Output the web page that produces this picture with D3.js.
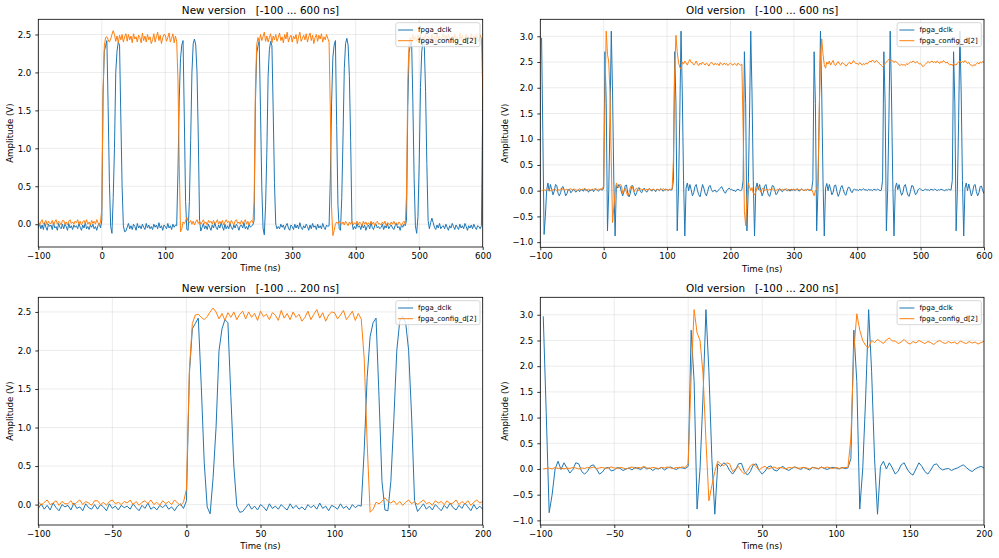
<!DOCTYPE html>
<html>
<head>
<meta charset="utf-8">
<script src="https://cdn.jsdelivr.net/npm/d3@7"></script>
<style>
  body { margin: 0; background: #fff; }
  svg { display: block; }
  text { font-family: "DejaVu Sans", sans-serif; }
</style>
</head>
<body>
<svg id="chart" width="999" height="558"></svg>
<script>
// scope samples, one every 2 ns starting at -100 ns, values in centivolts
const sampleStart = -100;
const sampleStep = 2;
const seriesNames = ["fpga_dclk", "fpga_config_d[2]"];

const newDclk = [
  -5,1,-6,-1,-7,2,-4,-8,0,-3,
  -1,-7,2,-5,-3,-8,1,-4,-6,0,
  -6,0,-3,-8,1,-5,-2,-7,-1,-4,
  -2,-6,1,-4,-8,-1,-5,2,-6,-3,
  -7,-1,-4,0,-6,-3,-8,-2,1,-5,
  5,170,228,235,242,155,55,-3,-12,35,
  100,200,228,240,236,140,50,-2,-10,-9,
  -4,1,-6,-2,-7,0,-3,-8,1,-5,
  -2,-6,0,-4,-7,1,-5,-1,-6,-3,
  -7,0,-4,-1,-6,2,-5,-2,-8,-1,
  -3,-6,1,-5,-2,-7,0,-4,-1,-2,
  70,165,218,236,242,140,30,-7,-8,30,
  110,200,238,244,236,200,115,5,-9,-4,
  1,-6,-2,-7,0,-4,-8,-1,-5,2,
  -4,-7,-1,-5,2,-3,-8,0,-6,-2,
  -6,1,-4,-7,-1,-5,0,-3,-8,-2,
  -1,-5,2,-6,-3,-7,0,-4,-2,-1,
  5,160,225,235,241,150,50,-5,-14,25,
  95,195,230,241,235,150,55,0,-6,-3,
  -6,0,-4,-1,-7,-2,1,-5,-8,-1,
  -3,-7,0,-5,-1,-6,2,-4,-7,-2,
  -5,0,-3,-8,-1,-6,1,-4,-2,-7,
  0,-5,-2,-6,1,-4,-7,-1,-3,-2,
  60,160,220,236,242,130,25,-6,-8,35,
  115,205,238,245,236,195,110,4,-7,-3,
  -6,1,-4,-2,-7,0,-5,-1,-8,-3,
  -1,-6,2,-4,-7,-2,0,-5,-3,-6,
  -4,0,-7,-2,-5,1,-6,-3,-1,-5,
  -7,-2,1,-5,-3,-8,-1,-4,0,-2,
  5,155,226,236,242,160,60,-2,-12,10,
  80,180,228,241,236,175,80,5,-6,2,
  8,2,-4,-7,-1,-5,1,-6,-3,-2,
  -6,0,-4,-8,-2,-5,1,-3,-7,-1,
  -4,-7,0,-5,-2,-6,1,-3,-8,-2,
  -5,-1,-6,0,-4,-7,-2,-3,-6,-2,
  160,228
];

const newConfig = [
  4,-1,3,6,0,2,5,-1,4,1,
  1,5,-1,3,6,0,4,2,-1,5,
  5,0,3,-1,4,6,1,3,0,4,
  2,6,0,4,-1,3,5,1,6,0,
  3,-1,5,1,4,0,6,2,-1,3,
  20,175,235,246,247,243,240,244,250,255,
  250,241,248,239,249,243,250,240,247,251,
  241,250,243,248,239,251,244,247,240,249,
  246,239,252,242,248,240,250,243,247,238,
  243,251,240,247,253,242,249,238,246,250,
  249,241,246,252,240,245,251,239,248,241,
  190,80,-10,-6,3,1,4,9,4,2,
  5,0,4,-1,3,6,1,4,0,3,
  6,1,3,-1,5,2,4,0,5,1,
  2,6,0,4,1,5,-1,3,6,2,
  4,0,5,2,-1,4,6,1,3,0,
  5,1,3,6,0,4,-1,3,5,2,
  30,180,236,246,240,250,242,247,253,241,
  248,240,246,251,239,248,243,250,241,246,
  252,242,247,239,250,244,253,240,246,249,
  240,248,244,250,238,247,253,241,245,249,
  243,251,240,247,252,242,249,238,246,250,
  241,249,244,251,240,247,243,250,245,240,
  150,20,-15,-8,0,3,1,4,2,0,
  3,-1,4,1,-2,3,0,4,-1,2,
  0,4,-1,3,1,-2,4,0,3,-1,
  2,-1,4,0,3,-2,2,4,0,1,
  -1,3,0,4,-2,2,1,-1,3,0,
  4,0,2,-1,3,1,-2,2,4,0,
  40,190,238,246,240,250,243,247,241,249,
  244,251,240,247,243,250,239,248,245,241,
  250,243,247,239,252,244,248,240,246,251,
  242,249,241,250,245,239,248,243,251,244,
  247,240,252,243,249,241,246,250,239,247,
  244,251,242,248,240,250,245,241,249,245,
  180,40
];

const oldDclk = [
  null,297,110,-85,-50,0,15,-1,12,2,
  -8,-1,12,10,-5,-10,-4,6,8,0,
  -10,-6,2,3,-4,-2,3,1,-3,0,
  2,-2,3,1,-1,4,0,2,-3,1,
  0,3,-2,2,4,1,-1,3,2,1,
  5,270,170,-78,0,140,310,190,20,-88,
  10,5,12,8,-3,-10,-2,10,11,-5,
  -12,-5,8,10,-3,-10,-4,4,6,-2,
  -4,2,5,0,-3,1,4,2,-1,3,
  1,-2,3,2,0,4,1,-1,2,3,
  2,0,3,1,2,20,270,170,-78,0,
  140,310,190,20,-88,5,15,0,12,2,
  -10,-4,8,12,0,-8,-12,0,12,5,
  -5,-10,-2,8,10,2,-2,0,1,-3,
  0,2,5,8,3,-2,-5,0,3,5,
  2,3,0,1,-2,2,3,1,0,2,
  20,270,170,-78,0,140,310,190,20,-88,
  5,15,2,12,0,-10,-3,9,12,0,
  -9,-11,-1,10,9,0,-8,-5,2,4,
  0,-2,2,3,1,0,2,-1,3,1,
  2,0,3,2,-1,1,3,2,0,2,
  1,3,0,2,1,20,270,170,-78,0,
  140,310,190,20,-88,5,14,0,12,3,
  -8,-3,10,11,-2,-11,-5,6,10,2,
  -6,-9,0,7,6,-1,-4,2,3,1,
  2,0,3,1,2,4,1,2,0,3,
  1,2,0,3,2,1,3,2,0,1,
  20,270,170,-78,0,140,310,190,20,-88,
  5,15,2,12,0,-9,-4,9,12,0,
  -9,-11,-1,10,9,0,-8,-5,2,4,
  3,1,0,2,3,1,2,0,3,2,
  1,3,2,0,2,1,3,2,1,0,
  2,1,3,2,1,20,270,170,-78,0,
  140,310,190,20,-88,5,15,0,13,2,
  -10,-3,10,12,-2,-10,-4,8,9,0,
  -5,-8
];

const oldConfig = [
  null,0,1,2,0,3,1,2,0,2,
  1,3,2,0,2,1,3,2,4,1,
  2,3,1,2,4,2,1,3,2,0,
  2,4,1,3,2,5,2,1,3,2,
  1,3,2,4,2,1,3,2,4,3,
  10,180,310,265,250,186,56,-62,-32,-5,
  15,10,6,12,10,-5,0,5,-4,-10,
  -4,6,10,4,-2,3,5,0,2,4,
  1,3,2,0,3,2,4,1,2,3,
  2,0,3,2,1,3,2,4,2,1,
  3,1,2,3,3,60,230,302,270,250,
  240,236,250,246,252,248,244,251,255,249,
  249,244,247,252,246,243,248,245,250,247,
  244,248,246,242,247,250,246,244,248,245,
  247,243,249,246,244,248,245,247,243,246,
  248,245,244,247,246,243,248,245,244,246,
  120,-40,-68,-15,15,8,0,6,-5,-8,
  -2,6,8,2,-3,4,5,0,2,3,
  1,3,2,4,1,2,0,3,2,1,
  2,3,1,2,4,2,1,3,0,2,
  3,1,2,4,2,1,3,2,0,2,
  1,3,2,0,2,-3,-10,0,2,15,
  150,260,295,265,245,238,250,246,252,244,
  249,253,245,243,248,251,246,244,249,247,
  246,242,244,248,250,246,248,253,249,247,
  247,245,249,246,244,247,245,248,246,250,
  252,250,254,251,249,253,251,248,246,243,
  241,244,247,250,253,255,251,254,252,249,
  252,250,247,245,243,246,244,245,243,247,
  245,248,250,249,252,250,248,251,249,246,
  247,243,241,244,246,249,251,248,250,252,
  249,251,248,252,250,247,251,249,253,250,
  248,250,246,244,246,243,247,245,244,248,
  250,252,248,251,249,253,250,247,249,245,
  244,242,245,243,247,249,246,250,248,251,
  249,250
];

const xTicksWide = [-100, 0, 100, 200, 300, 400, 500, 600];
const xTicksNarrow = [-100, -50, 0, 50, 100, 150, 200];
const yTicksNew = [0, 0.5, 1.0, 1.5, 2.0, 2.5];
const yTicksOld = [-1.0, -0.5, 0, 0.5, 1.0, 1.5, 2.0, 2.5, 3.0];

const colors = ["#1f77b4", "#ff7f0e"];

const panels = [
  {title: "New version   [-100 ... 600 ns]", series: [newDclk, newConfig],
   xDomain: [-100, 600], xTicks: xTicksWide, yDomain: [-0.3, 2.7], yTicks: yTicksNew,
   left: 38.3, right: 482.7, top: 19.3, bottom: 247, labelX: 12.5},
  {title: "Old version   [-100 ... 600 ns]", series: [oldDclk, oldConfig],
   xDomain: [-100, 600], xTicks: xTicksWide, yDomain: [-1.1, 3.33], yTicks: yTicksOld,
   left: 540.3, right: 984, top: 19.3, bottom: 247.3, labelX: 507.5},
  {title: "New version   [-100 ... 200 ns]", series: [newDclk, newConfig],
   xDomain: [-100, 200], xTicks: xTicksNarrow, yDomain: [-0.265, 2.69], yTicks: yTicksNew,
   left: 38.3, right: 482.7, top: 297.3, bottom: 525, labelX: 12.5},
  {title: "Old version   [-100 ... 200 ns]", series: [oldDclk, oldConfig],
   xDomain: [-100, 200], xTicks: xTicksNarrow, yDomain: [-1.09, 3.34], yTicks: yTicksOld,
   left: 540.3, right: 984, top: 297.3, bottom: 525, labelX: 507.5}
];

const svg = d3.select("#chart");
const fmtX = d3.format("d");
const fmtY = d3.format(".1f");

panels.forEach((p, k) => {
  const x = d3.scaleLinear().domain(p.xDomain).range([p.left, p.right]);
  const y = d3.scaleLinear().domain(p.yDomain).range([p.bottom, p.top]);
  const g = svg.append("g");

  g.append("clipPath").attr("id", "clip" + k)
    .append("rect")
      .attr("x", p.left).attr("y", p.top)
      .attr("width", p.right - p.left).attr("height", p.bottom - p.top);

  // grid
  g.append("g")
    .attr("stroke", "#b0b0b0").attr("stroke-opacity", 0.3).attr("stroke-width", 0.8)
    .call(gg => gg.selectAll(".vx").data(p.xTicks).enter().append("line")
        .attr("x1", d => x(d)).attr("x2", d => x(d))
        .attr("y1", p.top).attr("y2", p.bottom))
    .call(gg => gg.selectAll(".hy").data(p.yTicks).enter().append("line")
        .attr("y1", d => y(d)).attr("y2", d => y(d))
        .attr("x1", p.left).attr("x2", p.right));

  const line = d3.line()
    .defined(v => v !== null)
    .x((v, i) => x(sampleStart + i * sampleStep))
    .y(v => y(v / 100));

  g.append("g")
    .attr("clip-path", `url(#clip${k})`)
    .selectAll("path")
      .data(p.series)
    .enter().append("path")
      .attr("fill", "none")
      .attr("stroke", (d, i) => colors[i])
      .attr("stroke-width", 1)
      .attr("stroke-linejoin", "round")
      .attr("d", line);

  // axes
  g.append("g")
    .attr("transform", `translate(0,${p.bottom})`)
    .call(d3.axisBottom(x).tickValues(p.xTicks).tickFormat(fmtX).tickSize(3).tickPadding(3))
    .call(a => a.select(".domain").remove())
    .call(a => a.selectAll("line").attr("stroke", "#000").attr("stroke-width", 0.8))
    .call(a => a.selectAll("text").style("font-size", "8.6px").attr("fill", "#000"));

  g.append("g")
    .attr("transform", `translate(${p.left},0)`)
    .call(d3.axisLeft(y).tickValues(p.yTicks).tickFormat(fmtY).tickSize(3).tickPadding(4))
    .call(a => a.select(".domain").remove())
    .call(a => a.selectAll("line").attr("stroke", "#000").attr("stroke-width", 0.8))
    .call(a => a.selectAll("text").style("font-size", "8.6px").attr("fill", "#000"));

  g.append("rect")
    .attr("x", p.left).attr("y", p.top)
    .attr("width", p.right - p.left).attr("height", p.bottom - p.top)
    .attr("fill", "none").attr("stroke", "#000").attr("stroke-width", 0.8);

  const cx = (p.left + p.right) / 2;
  g.append("text")
    .attr("x", cx).attr("y", p.top - 5.5)
    .attr("text-anchor", "middle")
    .style("font-size", "10.4px").style("white-space", "pre")
    .text(p.title);

  g.append("text")
    .attr("x", cx).attr("y", p.bottom + 24.3)
    .attr("text-anchor", "middle")
    .style("font-size", "8.6px")
    .text("Time (ns)");

  g.append("text")
    .attr("transform", `translate(${p.labelX},${(p.top + p.bottom) / 2}) rotate(-90)`)
    .attr("text-anchor", "middle")
    .style("font-size", "8.6px")
    .text("Amplitude (V)");

  // legend
  const lg = g.append("g");
  const box = lg.append("rect")
    .attr("fill", "#fff").attr("fill-opacity", 0.8)
    .attr("stroke", "#cccccc").attr("stroke-width", 0.8)
    .attr("rx", 2);
  let textW = 0;
  seriesNames.forEach((name, i) => {
    const ry = 7.3 + i * 10.7;
    lg.append("line")
      .attr("x1", 2.3).attr("x2", 17.3).attr("y1", ry).attr("y2", ry)
      .attr("stroke", colors[i]).attr("stroke-width", 1);
    const t = lg.append("text")
      .attr("x", 22.3).attr("y", ry).attr("dy", "0.35em")
      .style("font-size", "7px")
      .text(name);
    textW = Math.max(textW, t.node().getComputedTextLength());
  });
  const w = 22.3 + textW + 3.5;
  box.attr("width", w).attr("height", 24);
  lg.attr("transform", `translate(${p.right - 2.7 - w},${p.top + 3.4})`);
});
</script>
</body>
</html>
